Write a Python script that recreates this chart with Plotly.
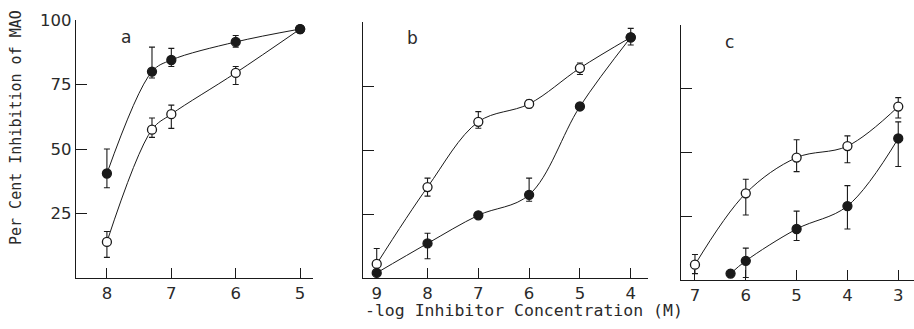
import plotly.graph_objects as go

# ---- data ----
a_x = [8, 7.3, 7, 6, 5]
a_filled = [40.5, 80, 84.5, 91.5, 96.5]
a_filled_up = [9.5, 9.5, 4.5, 2.5, 0]
a_filled_dn = [5.5, 2.5, 2.5, 2, 0]
a_open = [14, 57.5, 63.5, 79.5, 96.5]
a_open_up = [4, 4.5, 3.5, 2.5, 0]
a_open_dn = [6, 3, 5.5, 4.5, 0]

b_x = [9, 8, 7, 6, 5, 4]
b_filled = [2, 13.5, 24.5, 32.5, 67, 94]
b_filled_up = [0, 4, 0, 6.5, 0, 3.5]
b_filled_dn = [0, 6, 0, 2.5, 0, 3]
b_open = [5.5, 35.5, 61, 68, 82, 94]
b_open_up = [6, 3.5, 4, 1.5, 2, 0]
b_open_dn = [3.5, 3.5, 2.5, 1.5, 2.5, 0]

c_filled_x = [6.3, 6, 5, 4, 3]
c_filled = [2.5, 7.5, 20, 29, 55.5]
c_filled_up = [0, 5, 7, 8, 6.5]
c_filled_dn = [0, 6.5, 4.5, 9, 11]
c_open_x = [7, 6, 5, 4, 3]
c_open = [6, 34, 48, 52.5, 68]
c_open_up = [4, 5.5, 7, 4, 3.5]
c_open_dn = [3.5, 8.5, 5.5, 6.5, 4.5]

a_ticks = [8, 7, 6, 5]
b_ticks = [9, 8, 7, 6, 5, 4]
c_ticks = [7, 6, 5, 4, 3]
y_ticks = [25, 50, 75, 100]
y_ticklabels = ["25", "50", "75", "100"]

FONT = "DejaVu Sans"
TFONT = "DejaVu Sans Mono"
INK = "#1a1a1a"
TXT = "#2a2a2a"

fig = go.Figure()

def add_series(x, y, up, dn, filled, xa, ya):
    fig.add_trace(go.Scatter(
        x=x, y=y, xaxis=xa, yaxis=ya, mode="lines+markers",
        line=dict(color=INK, width=1, shape="spline", smoothing=1.0),
        marker=dict(size=9, color=INK if filled else "white",
                    line=dict(color=INK, width=1.3)),
        error_y=dict(type="data", symmetric=False, array=up, arrayminus=dn,
                     color=INK, thickness=1.1, width=3),
        showlegend=False, cliponaxis=False, hoverinfo="skip"))

add_series(a_x, a_open, a_open_up, a_open_dn, False, "x", "y")
add_series(a_x, a_filled, a_filled_up, a_filled_dn, True, "x", "y")
add_series(b_x, b_open, b_open_up, b_open_dn, False, "x2", "y2")
add_series(b_x, b_filled, b_filled_up, b_filled_dn, True, "x2", "y2")
add_series(c_open_x, c_open, c_open_up, c_open_dn, False, "x3", "y3")
add_series(c_filled_x, c_filled, c_filled_up, c_filled_dn, True, "x3", "y3")

W, H = 914, 329
def px_x(a, b):
    return [a / W, b / W]
def px_y(top, bottom):
    return [1 - bottom / H, 1 - top / H]

xcommon = dict(showline=True, linecolor=INK, linewidth=1.2, ticks="inside",
               ticklen=10, tickwidth=1.1, tickcolor=INK, showgrid=False,
               zeroline=False, tickfont=dict(family=FONT, size=16.5, color=TXT))
ycommon = dict(showline=True, linecolor=INK, linewidth=1.2, ticks="inside",
               ticklen=11, tickwidth=1.1, tickcolor=INK, showgrid=False,
               zeroline=False, range=[0, 100], tickvals=y_ticks,
               ticktext=y_ticklabels,
               tickfont=dict(family=FONT, size=16.5, color=TXT))

fig.update_layout(
    width=W, height=H, margin=dict(l=0, r=0, t=0, b=0, autoexpand=False),
    paper_bgcolor="white", plot_bgcolor="white",
    xaxis=dict(domain=px_x(76, 313), range=[8.48, 4.80], tickvals=a_ticks,
               anchor="y", **xcommon),
    yaxis=dict(domain=px_y(20, 278), anchor="x", showticklabels=True, **ycommon),
    xaxis2=dict(domain=px_x(363, 648), range=[9.27, 3.66], tickvals=b_ticks,
                anchor="y2", **xcommon),
    yaxis2=dict(domain=px_y(22, 278), anchor="x2", showticklabels=False, **ycommon),
    xaxis3=dict(domain=px_x(681, 914), range=[7.275, 2.69], tickvals=c_ticks,
                anchor="y3", **xcommon),
    yaxis3=dict(domain=px_y(25, 280), anchor="x3", showticklabels=False, **ycommon),
)

annots = [
    dict(text="a", x=126 / W, y=1 - 37 / H, size=17, fam=FONT),
    dict(text="b", x=412 / W, y=1 - 38 / H, size=17, fam=FONT),
    dict(text="c", x=729 / W, y=1 - 42 / H, size=17, fam=FONT),
    dict(text="-log Inhibitor Concentration (M)", x=524 / W, y=1 - 310 / H,
         size=16.5, fam=TFONT),
]
for a in annots:
    fig.add_annotation(text=a["text"], x=a["x"], y=a["y"], xref="paper", yref="paper",
                       showarrow=False, xanchor="center", yanchor="middle",
                       font=dict(family=a["fam"], size=a["size"], color=TXT))
fig.add_annotation(text="Per Cent Inhibition of MAO", x=16 / W, y=1 - 128 / H,
                   xref="paper", yref="paper", showarrow=False, textangle=-90,
                   xanchor="center", yanchor="middle",
                   font=dict(family=TFONT, size=15, color=TXT))

fig.write_html("out.html", config={"displayModeBar": False},
               post_script="document.body.style.margin='0';document.body.style.overflow='hidden';")
